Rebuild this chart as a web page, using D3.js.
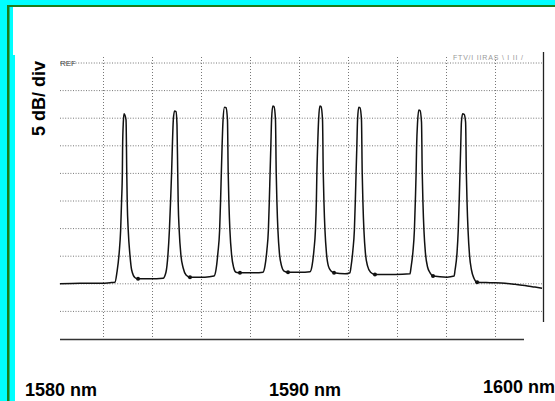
<!DOCTYPE html>
<html lang="en">
	<head>
		<meta charset="utf-8">
		<title>Optical spectrum, 5 dB/div</title>
		<script src="https://cdn.jsdelivr.net/npm/d3@7"></script>
		<style type="text/css">
			body { margin: 0; }
			svg { display: block; }
		</style>
	</head>
	<body>
		<div id="main"></div>

		<script type="text/javascript">

			// trace: wavelength (nm) and level (dB below REF)
			var traceNm = [
				1580.24, 1581.06, 1581.88, 1582.29, 1582.49,
				1582.57, 1582.66, 1582.72, 1582.76, 1582.79, 1582.80, 1582.83, 1582.86,
				1582.94, 1582.97, 1582.99, 1583.03, 1583.10, 1583.17, 1583.31, 1583.43, 1583.92, 1584.45,
				1584.57, 1584.65, 1584.71, 1584.76, 1584.80, 1584.83, 1584.87, 1584.92,
				1584.98, 1585.02, 1585.05, 1585.07, 1585.11, 1585.18, 1585.27, 1585.39, 1585.55, 1586.16, 1586.53,
				1586.61, 1586.69, 1586.76, 1586.80, 1586.83, 1586.86, 1586.90, 1586.96,
				1587.02, 1587.08, 1587.11, 1587.14, 1587.18, 1587.25, 1587.33, 1587.43, 1587.59, 1588.20, 1588.53,
				1588.61, 1588.69, 1588.75, 1588.79, 1588.82, 1588.85, 1588.88, 1588.93,
				1588.98, 1589.04, 1589.07, 1589.10, 1589.14, 1589.20, 1589.29, 1589.39, 1589.55, 1590.04, 1590.45,
				1590.53, 1590.61, 1590.67, 1590.71, 1590.73, 1590.76, 1590.80, 1590.85,
				1590.90, 1590.96, 1590.99, 1591.02, 1591.06, 1591.12, 1591.20, 1591.31, 1591.43, 1591.88, 1592.08,
				1592.12, 1592.20, 1592.26, 1592.30, 1592.33, 1592.36, 1592.39, 1592.44,
				1592.49, 1592.55, 1592.58, 1592.61, 1592.65, 1592.71, 1592.80, 1592.92, 1593.10, 1593.92, 1594.53,
				1594.57, 1594.65, 1594.71, 1594.75, 1594.78, 1594.80, 1594.84, 1594.89,
				1594.94, 1595.00, 1595.03, 1595.06, 1595.10, 1595.16, 1595.25, 1595.35, 1595.47, 1596.04, 1596.33,
				1596.37, 1596.45, 1596.50, 1596.54, 1596.57, 1596.60, 1596.63, 1596.68,
				1596.74, 1596.80, 1596.83, 1596.86, 1596.90, 1596.96, 1597.04, 1597.14, 1597.27,
				1597.80, 1598.41, 1598.82, 1599.22, 1599.63, 1599.92
			];
			var traceDb = [
				-40.0, -39.9, -39.9, -39.8, -39.7,
				-37.9, -34.4, -30.3, -24.8, -19.9, -15.2, -10.7, -9.2,
				-10.3, -19.9, -25.4, -30.3, -34.8, -37.5, -38.9, -39.1, -39.1, -39.0,
				-37.9, -34.8, -30.3, -24.8, -19.9, -15.2, -10.3, -8.7,
				-8.8, -11.2, -19.9, -25.4, -30.3, -34.8, -37.1, -38.4, -38.8, -38.8, -38.6,
				-37.5, -34.4, -30.3, -24.8, -19.9, -15.2, -10.3, -8.0,
				-8.1, -10.3, -19.9, -25.4, -30.3, -34.8, -37.0, -37.9, -38.0, -38.0, -37.9,
				-36.8, -33.9, -30.3, -24.8, -19.9, -15.2, -10.3, -7.8,
				-7.9, -10.3, -19.9, -25.4, -30.3, -34.4, -36.8, -37.7, -37.9, -37.9, -37.8,
				-36.8, -33.9, -30.3, -24.8, -19.9, -15.2, -10.3, -7.8,
				-7.9, -10.3, -19.9, -25.4, -30.3, -34.4, -36.8, -37.7, -38.0, -38.2, -38.0,
				-37.0, -33.9, -30.3, -24.8, -19.9, -15.2, -10.3, -8.0,
				-8.1, -10.3, -19.9, -25.4, -30.3, -34.4, -36.8, -37.9, -38.3, -38.3, -38.2,
				-37.1, -34.2, -30.3, -24.8, -19.9, -15.2, -10.7, -8.5,
				-8.6, -10.7, -19.9, -25.4, -30.3, -34.4, -37.0, -38.0, -38.6, -38.8, -38.6,
				-37.5, -34.4, -30.3, -24.8, -19.9, -15.2, -10.7, -9.2,
				-9.3, -10.7, -19.9, -25.4, -30.3, -34.8, -37.5, -39.0, -39.7,
				-39.8, -39.9, -40.1, -40.3, -40.6, -40.8
			];

			// marker dots sitting in the valleys
			var markerNm = [1583.43, 1585.55, 1587.59, 1589.55, 1591.43, 1593.10, 1595.47, 1597.27];
			var markerDb = [-39.1, -38.8, -38.0, -37.9, -38.0, -38.3, -38.6, -39.7];

			// grid: 2 nm/div and 5 dB/div
			var xGridNm = [1582, 1584, 1586, 1588, 1590, 1592, 1594, 1596, 1598];
			var yGridDb = [0, -5, -10, -15, -20, -25, -30, -35, -40, -45];

			var xLabels = ["1580 nm", "1590 nm", "1600 nm"];
			var yLabel = "5 dB/ div";

			var w = 555;
			var h = 401;

			var svg = d3.select("#main")
						.append("svg")
						.attr("width", w)
						.attr("height", h);

			// frame: cyan surround, green rule, white page
			svg.append("rect").attr("width", w).attr("height", h).attr("fill", "#00ffff");
			svg.append("rect").attr("x", 13).attr("y", 7).attr("width", w - 13).attr("height", 48).attr("fill", "#fff");
			svg.append("rect").attr("x", 15).attr("y", 7).attr("width", w - 15).attr("height", h - 7).attr("fill", "#fff");
			svg.append("rect").attr("x", 7).attr("y", 5).attr("width", w - 7).attr("height", 2).attr("fill", "#1b7f1b");
			svg.append("rect").attr("x", 7).attr("y", 5).attr("width", 2.5).attr("height", h - 5).attr("fill", "#1b7f1b");

			var x = d3.scaleLinear().domain([1580, 1600]).range([54, 544]);
			var y = d3.scaleLinear().domain([0, -50]).range([63, 339]);

			// dotted grid
			svg.append("g")
				.selectAll("line")
				.data(yGridDb)
				.enter()
				.append("line")
				.attr("x1", 60)
				.attr("x2", 543)
				.attr("y1", function(d) { return y(d); })
				.attr("y2", function(d) { return y(d); })
				.attr("stroke", "#777")
				.attr("stroke-width", 1)
				.attr("stroke-dasharray", "1,1.6");

			svg.append("g")
				.selectAll("line")
				.data(xGridNm)
				.enter()
				.append("line")
				.attr("x1", function(d) { return Math.round(x(d)) + 0.5; })
				.attr("x2", function(d) { return Math.round(x(d)) + 0.5; })
				.attr("y1", 57)
				.attr("y2", y(-50))
				.attr("stroke", "#777")
				.attr("stroke-width", 1)
				.attr("stroke-dasharray", "1,2");

			// bottom rule and right edge
			svg.append("line")
				.attr("x1", 60).attr("x2", 524)
				.attr("y1", y(-50) + 0.5).attr("y2", y(-50) + 0.5)
				.attr("stroke", "#333").attr("stroke-width", 1.4);
			svg.append("line")
				.attr("x1", 543.5).attr("x2", 543.5)
				.attr("y1", 52).attr("y2", 322)
				.attr("stroke", "#222").attr("stroke-width", 1.3);

			svg.append("text")
				.attr("x", 60).attr("y", 66)
				.attr("font-family", "Liberation Sans, Arial, sans-serif")
				.attr("font-size", 8)
				.attr("fill", "#444")
				.text("REF");

			svg.append("text")
				.attr("x", 453).attr("y", 60)
				.attr("font-family", "Liberation Sans, Arial, sans-serif")
				.attr("font-size", 7)
				.attr("letter-spacing", 0.8)
				.attr("fill", "#999")
				.text("FTV/I IIRAS  \\   I II   /");

			// the spectrum trace
			var pts = traceNm.map(function(d, i) { return [d, traceDb[i]]; });

			var line = d3.line()
				.x(function(d) { return x(d[0]); })
				.y(function(d) { return y(d[1]); })
				.curve(d3.curveMonotoneX);

			svg.append("path")
				.datum(pts)
				.attr("d", line)
				.attr("fill", "none")
				.attr("stroke", "#111")
				.attr("stroke-width", 1.5)
				.attr("stroke-linejoin", "round");

			svg.append("g")
				.selectAll("circle")
				.data(markerNm)
				.enter()
				.append("circle")
				.attr("cx", function(d) { return x(d); })
				.attr("cy", function(d, i) { return y(markerDb[i]); })
				.attr("r", 2)
				.attr("fill", "#111");

			// labels
			svg.append("text")
				.attr("transform", "translate(45,98.5) rotate(-90)")
				.attr("text-anchor", "middle")
				.attr("font-family", "Liberation Sans, Arial, sans-serif")
				.attr("font-weight", "bold")
				.attr("font-size", 18)
				.attr("fill", "#000")
				.text(yLabel);

			var labelX = [25, 269, 483];
			var labelY = [396, 396, 393];
			svg.append("g")
				.selectAll("text")
				.data(xLabels)
				.enter()
				.append("text")
				.attr("x", function(d, i) { return labelX[i]; })
				.attr("y", function(d, i) { return labelY[i]; })
				.attr("font-family", "Liberation Sans, Arial, sans-serif")
				.attr("font-weight", "bold")
				.attr("font-size", 18)
				.attr("fill", "#000")
				.text(function(d) { return d; });

		</script>
	</body>
</html>
